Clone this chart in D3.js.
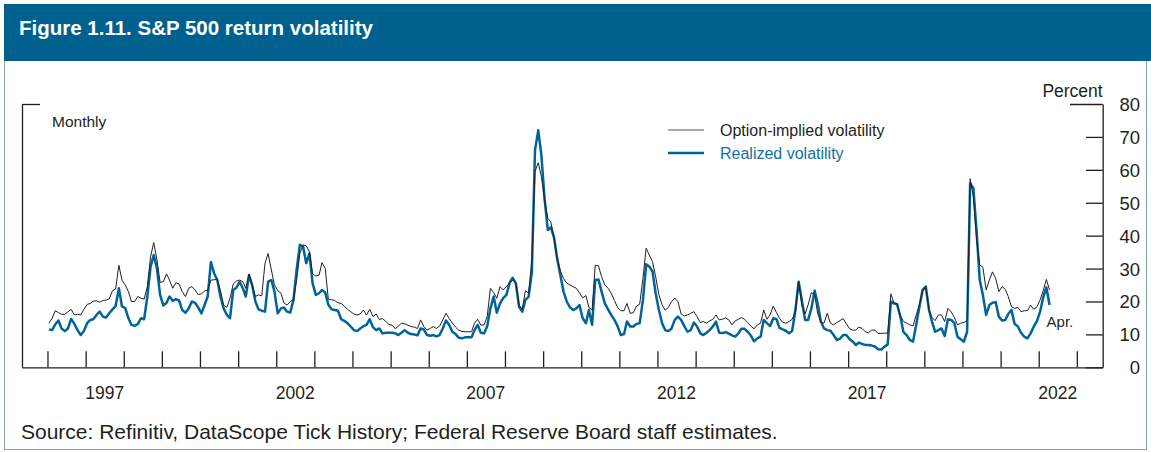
<!DOCTYPE html>
<html>
<head>
<meta charset="utf-8">
<script src="https://cdn.jsdelivr.net/npm/d3@7"></script>
<style>
body { margin: 0; background: #fff; }
svg { display: block; }
.narrow { font-family: "Liberation Sans Narrow", "Arial Narrow", "Liberation Sans", sans-serif; fill: #231f20; }
.axis path, .axis line { stroke: #231f20; stroke-width: 1.3; }
</style>
</head>
<body>
<svg width="1151" height="452"></svg>
<script>
// monthly values, Jan 1996 .. Apr 2022
var startYear = 1996;
var implied = [
  13.4, 14.9, 17.2, 16.6, 16.1, 16.1, 16.9, 17.6, 15.9, 16.1, 15.9, 17.6,
  19.1, 19.4, 20.1, 20.2, 19.8, 20.3, 20.4, 20.8, 23.3, 23.8, 31.0, 26.5,
  25.0, 23.0, 20.0, 20.0, 21.5, 21.0, 20.7, 24.5, 33.6, 37.9, 32.6, 25.8,
  26.0, 28.4, 26.5, 24.0, 25.7, 25.3, 23.0, 21.5, 24.0, 24.5, 23.5, 22.1,
  22.3, 23.2, 23.5, 26.5, 26.6, 26.7, 23.3, 18.9, 18.2, 21.0, 25.3, 26.2,
  26.5, 26.0, 24.0, 28.4, 25.0, 21.5, 22.0, 21.7, 31.6, 34.6, 29.6, 25.0,
  23.3, 22.5, 19.6, 18.9, 20.0, 20.5, 26.5, 34.6, 37.2, 36.9, 35.1, 28.4,
  27.7, 28.0, 31.8, 30.1, 20.7, 20.5, 20.3, 19.6, 19.4, 18.6, 17.6, 16.9,
  16.2, 15.9, 16.2, 17.4, 15.9, 17.6, 15.4, 16.2, 14.5, 14.8, 14.0, 13.0,
  12.8, 11.7, 12.5, 13.4, 13.2, 12.8, 12.4, 12.2, 11.8, 14.4, 12.4, 11.3,
  11.8, 12.4, 11.8, 12.5, 14.4, 16.4, 14.9, 13.4, 12.2, 11.3, 10.9, 10.8,
  10.8, 10.8, 13.4, 14.6, 12.8, 12.9, 15.4, 24.0, 22.7, 21.0, 24.5, 23.5,
  24.5, 25.7, 26.5, 25.5, 18.9, 17.6, 23.3, 22.5, 32.6, 59.5, 62.2, 58.0,
  50.9, 45.3, 44.2, 39.5, 33.1, 29.3, 27.0, 25.6, 25.0, 24.5, 24.0, 22.6,
  21.1, 21.8, 18.2, 17.4, 31.0, 30.8, 27.5, 25.0, 24.0, 22.5, 20.3, 18.2,
  17.2, 17.2, 19.4, 16.4, 16.6, 18.6, 19.2, 27.0, 36.2, 34.1, 32.1, 27.5,
  22.0, 19.0, 17.4, 18.2, 20.0, 21.0, 20.0, 16.2, 15.6, 15.9, 16.4, 16.9,
  15.4, 13.6, 13.9, 13.4, 14.1, 14.6, 15.9, 14.4, 14.6, 15.0, 14.4, 12.9,
  14.1, 14.6, 15.1, 14.6, 13.6, 12.5, 11.7, 12.9, 13.4, 17.4, 14.6, 15.9,
  18.6, 16.6, 14.9, 13.7, 13.4, 13.9, 14.6, 16.9, 26.0, 18.9, 16.2, 19.0,
  22.7, 22.0, 16.4, 13.6, 13.4, 16.4, 13.4, 12.9, 13.6, 14.2, 14.8, 13.2,
  11.7, 11.3, 11.3, 12.2, 11.8, 10.8, 10.5, 11.3, 11.3, 10.3, 10.3, 10.4,
  10.3, 22.3, 19.6, 19.3, 15.9, 13.9, 13.4, 12.9, 12.6, 15.9, 18.9, 23.0,
  24.5, 17.4, 15.2, 14.2, 15.9, 15.9, 13.9, 17.9, 16.9, 15.2, 12.9, 13.4,
  13.6, 14.2, 57.3, 51.9, 39.2, 31.1, 30.4, 23.5, 26.5, 29.0, 27.0, 23.0,
  24.5, 23.7, 21.5, 18.4, 17.9, 18.2, 16.9, 17.2, 17.2, 18.9, 17.6, 18.4,
  20.5, 23.5, 26.7, 23.5
];
var realized = [
  11.5, 11.3, 13.0, 14.2, 11.8, 11.0, 11.8, 14.7, 13.2, 11.3, 9.8, 11.0,
  13.4, 14.4, 14.6, 15.9, 16.9, 15.4, 15.1, 16.4, 17.6, 18.6, 24.0, 18.5,
  18.0, 14.9, 12.9, 12.6, 13.1, 14.9, 14.6, 21.5, 30.6, 34.1, 30.0, 22.0,
  18.8, 19.6, 21.5, 20.2, 20.7, 20.3, 17.4, 16.6, 17.9, 20.0, 19.6, 18.2,
  16.4, 19.0, 21.5, 32.0, 28.6, 26.5, 21.5, 17.9, 15.9, 14.9, 23.5, 24.2,
  26.0, 24.0, 21.5, 28.0, 25.0, 20.0, 17.6, 17.2, 16.9, 26.0, 26.5, 23.0,
  16.4, 17.9, 18.2, 16.9, 16.6, 20.5, 29.6, 37.2, 36.7, 31.6, 34.6, 25.5,
  22.0, 22.5, 23.5, 22.7, 19.0, 17.6, 17.4, 17.2, 14.6, 14.1, 13.4, 12.4,
  11.3, 11.0, 11.8, 12.5, 12.9, 14.6, 12.2, 11.3, 11.8, 10.3, 10.5, 10.5,
  10.5, 10.3, 9.8, 10.5, 11.3, 10.5, 10.1, 10.0, 9.7, 11.8, 11.5, 9.8,
  9.6, 9.8, 9.4, 9.8, 11.8, 14.2, 12.9, 10.8, 10.1, 9.0, 8.8, 9.1,
  9.1, 9.1, 11.3, 12.9, 10.5, 10.3, 12.5, 17.9, 21.5, 16.6, 19.4, 21.0,
  22.0, 25.7, 27.2, 25.5, 18.4, 16.9, 20.5, 21.5, 29.0, 66.0, 72.0, 64.5,
  51.0, 41.7, 42.5, 39.5, 33.1, 28.0, 23.0, 20.0, 18.2, 17.4, 17.9, 18.9,
  14.9, 13.4, 17.4, 12.9, 26.5, 26.7, 23.0, 19.4, 17.6, 15.9, 14.4, 12.5,
  9.8, 10.1, 13.9, 12.4, 12.4, 13.2, 13.4, 20.4, 31.3, 30.6, 29.1, 22.5,
  17.4, 13.4, 11.3, 11.0, 11.8, 14.4, 15.4, 14.4, 12.5, 10.8, 11.3, 13.6,
  12.4, 10.3, 9.8, 10.5, 11.3, 12.4, 13.9, 10.5, 10.4, 10.7, 10.2, 9.7,
  9.3, 10.3, 11.7, 11.7, 10.8, 9.6, 7.9, 8.8, 9.3, 14.4, 13.4, 12.5,
  14.9, 14.6, 12.0, 11.5, 11.1, 10.3, 11.1, 17.4, 26.0, 20.5, 14.4, 14.4,
  17.9, 23.3, 19.4, 13.9, 11.8, 11.3, 11.1, 9.8, 8.3, 8.7, 9.8, 9.8,
  8.5, 7.8, 6.8, 7.5, 7.1, 6.8, 6.8, 6.6, 6.3, 5.5, 5.4, 6.3,
  6.9, 20.0, 19.4, 19.2, 15.5, 10.7, 9.8, 8.3, 7.8, 12.9, 18.4, 23.5,
  24.5, 17.4, 13.9, 10.8, 11.3, 11.8, 9.5, 14.6, 14.4, 13.5, 9.3, 8.5,
  7.8, 10.8, 55.9, 54.4, 41.7, 26.5, 22.0, 15.9, 18.9, 19.6, 19.8, 15.4,
  14.2, 14.4, 16.2, 17.4, 13.2, 12.4, 10.5, 9.3, 8.8, 10.3, 12.4, 14.0,
  17.0, 21.5, 24.3, 18.9
];
var yearLabels = [1997, 2002, 2007, 2012, 2017, 2022];
var yTicks = [0, 10, 20, 30, 40, 50, 60, 70, 80];
var seriesNames = ["Option-implied volatility", "Realized volatility"];

var svg = d3.select("svg"),
    plotLeft = 22, plotRight = 1102.7, plotTop = 104, plotBottom = 367.3;

// frame + title bar
svg.append("rect")
    .attr("x", 4.5).attr("y", 4.5).attr("width", 1142).attr("height", 445)
    .attr("fill", "none").attr("stroke", "#7fa3c0").attr("stroke-width", 1);
svg.append("rect")
    .attr("x", 4).attr("y", 4).attr("width", 1147).attr("height", 57)
    .attr("fill", "#00618f");
svg.append("text")
    .attr("x", 19).attr("y", 35)
    .attr("font-family", "Liberation Sans, Arial, sans-serif")
    .attr("font-weight", "bold").attr("font-size", 20.5)
    .attr("fill", "#fff")
    .text("Figure 1.11. S&P 500 return volatility");

var x = d3.scaleUtc()
    .domain([new Date(Date.UTC(1995, 4, 2)), new Date(Date.UTC(2023, 8, 6))])
    .range([plotLeft, plotRight]);
var y = d3.scaleLinear().domain([0, 80]).range([plotBottom, plotTop]);

function monthDate(i) { return new Date(Date.UTC(startYear, i, 15)); }

// x axis with yearly ticks pointing up
var yearTicks = d3.utcYear.range(new Date(Date.UTC(1996, 0, 1)), new Date(Date.UTC(2023, 0, 2)));
svg.append("g").attr("class", "axis")
    .attr("transform", "translate(0," + plotBottom + ")")
    .call(d3.axisBottom(x).tickValues(yearTicks).tickSizeInner(-16).tickSizeOuter(0).tickFormat(""));

svg.append("g").attr("class", "narrow")
  .selectAll("text").data(yearLabels).enter().append("text")
    .attr("x", function(d) { return x(new Date(Date.UTC(d, 6, 2))); })
    .attr("y", 399)
    .attr("text-anchor", "middle")
    .attr("font-size", 17.5)
    .text(function(d) { return d; });

// right axis
var yAxis = svg.append("g").attr("class", "axis")
    .attr("transform", "translate(" + plotRight + ",0)")
    .call(d3.axisRight(y).tickValues(yTicks).tickSizeInner(-16.7).tickSizeOuter(0));
yAxis.selectAll(".tick line").filter(function(d) { return d === 80; }).attr("x2", -32.7);
yAxis.selectAll(".tick text")
    .attr("class", "narrow")
    .attr("x", 37.3).attr("dy", "0.35em")
    .attr("text-anchor", "end")
    .attr("font-size", 18.5)
    .attr("fill", "#231f20");

// left bracket
svg.append("g").attr("class", "axis")
    .attr("transform", "translate(" + plotLeft + ",0)")
    .call(d3.axisLeft(y).tickValues([80]).tickSizeInner(-18).tickSizeOuter(0).tickFormat(""));
svg.selectAll(".axis .domain").attr("fill", "none");

svg.append("text").attr("class", "narrow")
    .attr("x", plotRight).attr("y", 97).attr("text-anchor", "end")
    .attr("font-size", 17.5).text("Percent");
svg.append("text").attr("class", "narrow")
    .attr("x", 52).attr("y", 127).attr("font-size", 15.5).text("Monthly");

// lines
var line = d3.line()
    .x(function(d, i) { return x(monthDate(i)); })
    .y(function(d) { return y(d); });

svg.append("path")
    .attr("d", line(realized))
    .attr("fill", "none").attr("stroke", "#00649a").attr("stroke-width", 2.5)
    .attr("stroke-linejoin", "round");
svg.append("path")
    .attr("d", line(implied))
    .attr("fill", "none").attr("stroke", "#231f20").attr("stroke-width", 1)
    .attr("stroke-linejoin", "round");

svg.append("text").attr("class", "narrow")
    .attr("x", x(monthDate(realized.length - 1)) - 3).attr("y", 327)
    .attr("font-size", 15).text("Apr.");

// legend
var legendColors = ["#555", "#00649a"], legendWidths = [1.2, 2.5], legendText = ["#231f20", "#1470a3"];
var lg = svg.append("g").selectAll("g").data(seriesNames).enter().append("g")
    .attr("transform", function(d, i) { return "translate(668," + (130 + i * 23) + ")"; });
lg.append("line").attr("x1", 0).attr("x2", 36)
    .attr("stroke", function(d, i) { return legendColors[i]; })
    .attr("stroke-width", function(d, i) { return legendWidths[i]; });
lg.append("text").attr("class", "narrow")
    .attr("x", 52).attr("dy", "0.35em").attr("font-size", 16)
    .style("fill", function(d, i) { return legendText[i]; })
    .text(function(d) { return d; });

svg.append("text")
    .attr("x", 21).attr("y", 439)
    .attr("font-family", "Liberation Sans, Arial, sans-serif")
    .attr("font-size", 21).attr("fill", "#231f20")
    .text("Source: Refinitiv, DataScope Tick History; Federal Reserve Board staff estimates.");
</script>
</body>
</html>
